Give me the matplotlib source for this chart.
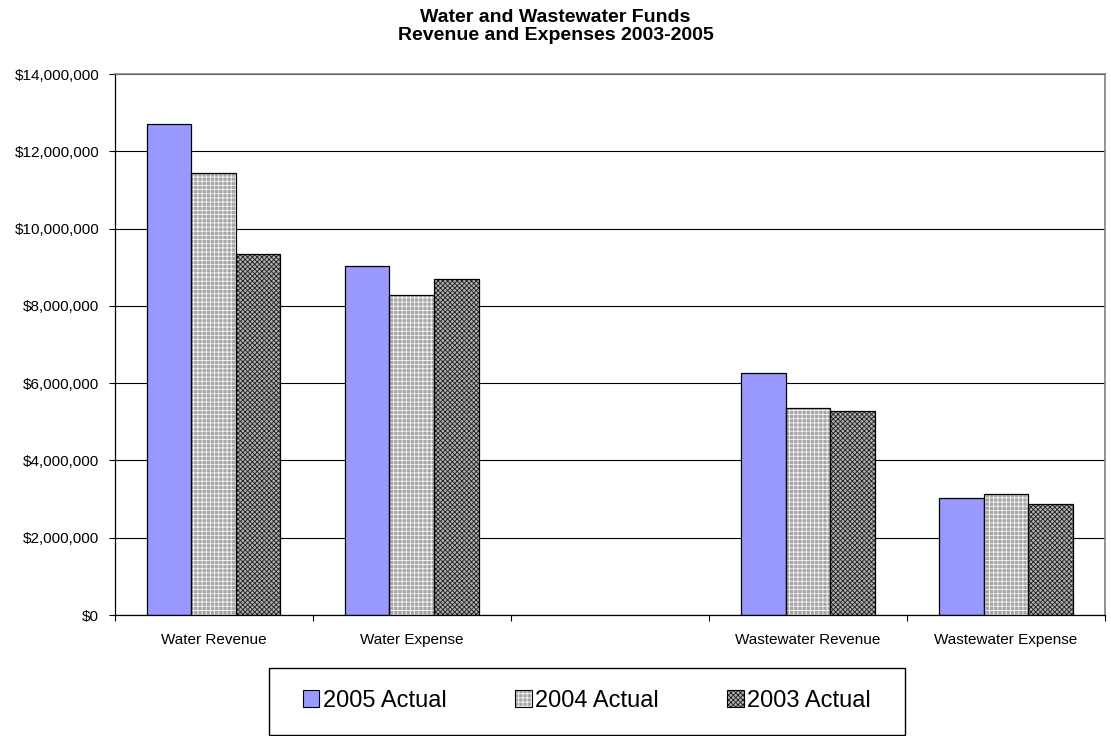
import numpy as np
import matplotlib
matplotlib.use("Agg")
import matplotlib.pyplot as plt
from matplotlib.patches import Patch, Rectangle
from matplotlib.ticker import FuncFormatter, FixedLocator
from matplotlib.legend_handler import HandlerTuple

plt.rcParams['font.family'] = ['Liberation Sans', 'DejaVu Sans']
plt.rcParams['hatch.linewidth'] = 0.6

# Fund categories (third slot is an empty spacer)
categories = ["Water Revenue", "Water Expense", "", "Wastewater Revenue", "Wastewater Expense"]
series_names = ["2005 Actual", "2004 Actual", "2003 Actual"]
actual_2005 = [12_700_000, 9_020_000, np.nan, 6_270_000, 3_040_000]
actual_2004 = [11_440_000, 8_280_000, np.nan, 5_360_000, 3_120_000]
actual_2003 = [9_330_000, 8_700_000, np.nan, 5_290_000, 2_880_000]
y_ticks = [0, 2_000_000, 4_000_000, 6_000_000, 8_000_000, 10_000_000, 12_000_000, 14_000_000]

series = [actual_2005, actual_2004, actual_2003]
# fill, hatch, hatch colour for each year
styles = [
    ("#9999FF", "", "#000000"),
    ("#A6A6A6", "++++", "#F8F8F8"),
    ("#B0B0B0", "xxxxxxx", "#1E1E1E"),
]

fig = plt.figure(figsize=(11.11, 7.36), dpi=100)
ax = fig.add_axes([114.5 / 1111, 1 - 615 / 736, (1105 - 114.5) / 1111, (615 - 74) / 736])

x = np.arange(len(categories)) + 0.5
width = 0.225
offsets = [-width, 0.0, width]

handles = []
for vals, off, (fc, hatch, hc) in zip(series, offsets, styles):
    ax.bar(x + off, vals, width, facecolor=fc, hatch=hatch, edgecolor=hc,
           linewidth=0, zorder=2)
    ax.bar(x + off, vals, width, fill=False, edgecolor="#000000",
           linewidth=0.9, zorder=3)
    handles.append((Patch(facecolor=fc, hatch=hatch, edgecolor=hc, linewidth=0),
                    Patch(fill=False, edgecolor="#000000", linewidth=0.8)))

ax.set_xlim(0, len(categories))
ax.set_ylim(0, 14_000_000)
ax.yaxis.set_major_locator(FixedLocator(y_ticks))
ax.yaxis.set_major_formatter(FuncFormatter(lambda v, p: f"${v:,.0f}"))
ax.grid(axis="y", color="#000000", linewidth=0.8)
ax.set_axisbelow(True)

# category boundaries carry the tick marks, labels sit at centres
ax.set_xticks(np.arange(len(categories) + 1))
ax.set_xticklabels([])
ax.set_xticks(x, minor=True)
ax.set_xticklabels(categories, minor=True)
ax.tick_params(axis="x", which="major", length=4, width=0.8, direction="out")
ax.tick_params(axis="x", which="minor", length=0, pad=13, labelsize=11)
ax.tick_params(axis="y", length=4, width=0.8, pad=7, labelsize=11)

for side in ("left", "bottom"):
    ax.spines[side].set_color("#000000")
    ax.spines[side].set_linewidth(0.9)
for side in ("top", "right"):
    ax.spines[side].set_color("#808080")
    ax.spines[side].set_linewidth(1.2)

fig.text(0.5, 1 - 9 / 736, "Water and Wastewater Funds\nRevenue and Expenses 2003-2005",
         ha="center", va="top", fontsize=14, fontweight="bold", linespacing=1.1)

# legend box
fig.patches.append(Rectangle((269 / 1111, 1 / 736), 636 / 1111, 67 / 736,
                             transform=fig.transFigure, fill=False,
                             edgecolor="#000000", linewidth=1.0))
fig.legend(handles, series_names, loc="center", bbox_to_anchor=(587 / 1111, 1 - 701 / 736),
           ncol=3, frameon=False, fontsize=17, handlelength=0.7, handleheight=0.7,
           handletextpad=0.15, columnspacing=2.9,
           handler_map={tuple: HandlerTuple(ndivide=1)})

fig.savefig("out.png", dpi=100)
